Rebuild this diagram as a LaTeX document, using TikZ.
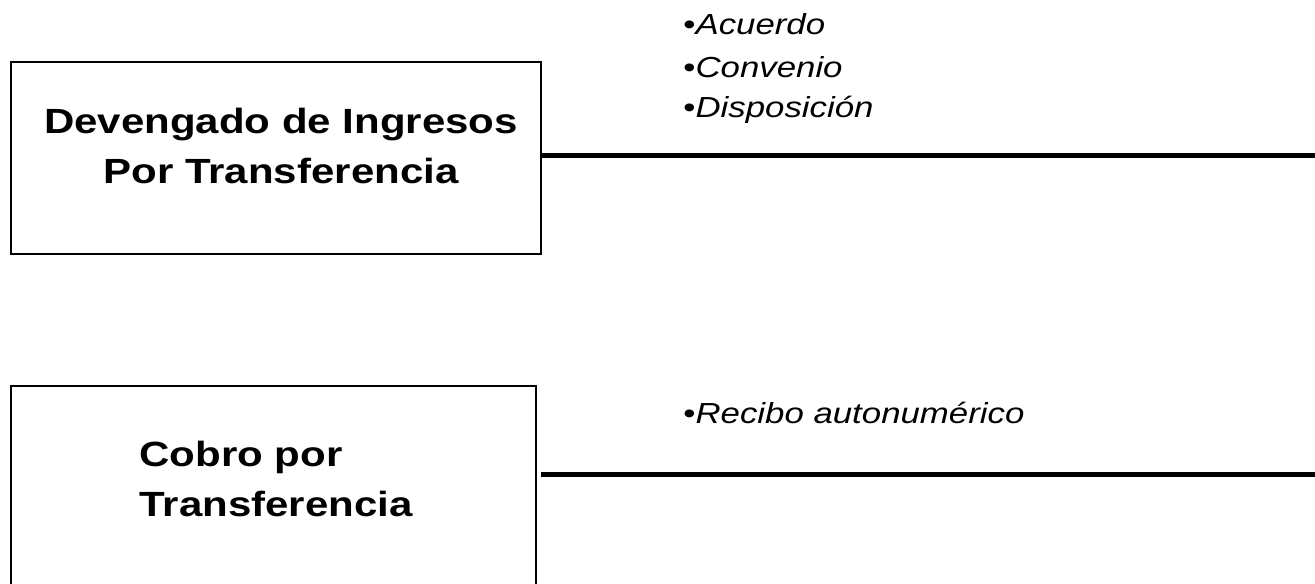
\documentclass[tikz,border=0pt]{standalone}
\usepackage{fontspec}
\setmainfont[FakeStretch=1.2]{Liberation Sans}
\usetikzlibrary{positioning}

\begin{document}
\begin{tikzpicture}[x=0.5pt, y=-0.5pt,
  caja/.style={draw, line width=0.7pt, minimum width=265pt, minimum height=96pt, inner sep=0pt},
  titulo/.style={font=\fontsize{17.5}{25.3}\selectfont\bfseries, inner sep=0pt},
  item/.style={anchor=base west, inner sep=0pt, font=\fontsize{14.5}{17}\selectfont},
  raya/.style={line width=2.5pt}]
\clip (0,0) rectangle (1315,583);

% primer bloque
\node[caja] (dev) at (276,158) {};
\node[titulo, align=center] (devtxt) at (281,146) {Devengado de Ingresos\\Por Transferencia};
\coordinate (fin1) at (1315,155);
\draw[raya] (dev.east |- fin1) -- (fin1);
\node[item] (acu) at (683,35) {•\textit{Acuerdo}};
\node[item] (con) at (683,77) {•\textit{Convenio}};
\node[item] (dis) at (683,118) {•\textit{Disposición}};

% segundo bloque
\node[caja, minimum width=262.5pt, minimum height=102pt] (cob) at (273.5,488) {};
\node[titulo, align=left, anchor=west] (cobtxt) at (139,479) {Cobro por\\Transferencia};
\coordinate (fin2) at (1315,474);
\draw[raya] ([xshift=2pt]cob.east |- fin2) -- (fin2);
\node[item] (rec) at (683,423) {•\textit{Recibo autonumérico}};

\end{tikzpicture}
\end{document}
